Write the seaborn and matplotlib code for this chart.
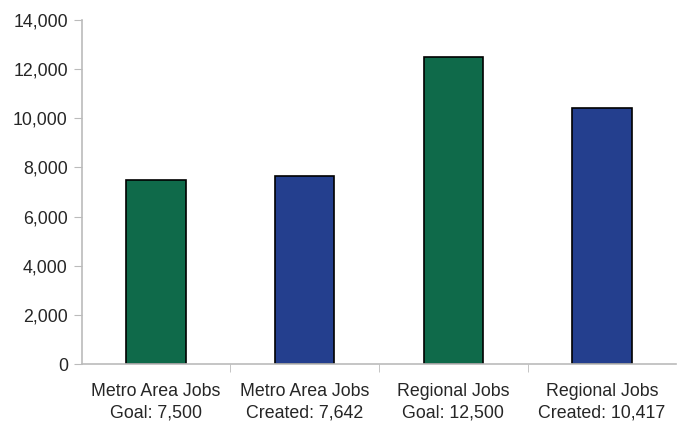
import pandas as pd
import matplotlib.pyplot as plt
import seaborn as sns
from matplotlib.ticker import FuncFormatter, FixedLocator

# data
categories = ["Metro Area Jobs\nGoal: 7,500", "Metro Area Jobs\nCreated: 7,642",
              "Regional Jobs\nGoal: 12,500", "Regional Jobs\nCreated: 10,417"]
jobs = [7500, 7642, 12500, 10417]
kind = ["Goal", "Created", "Goal", "Created"]

df = pd.DataFrame({"category": categories, "jobs": jobs, "kind": kind})

sns.set_style("white")
plt.rcParams["font.family"] = ["Liberation Sans", "DejaVu Sans"]

fig = plt.figure(figsize=(6.81, 4.24), dpi=100)
ax = fig.add_axes([0.120, 0.1415, 0.873, 0.8115])

sns.barplot(data=df, x="category", y="jobs", hue="kind",
            palette={"Goal": "#0f6a4a", "Created": "#243f8e"}, saturation=1,
            width=0.4, dodge=False, edgecolor="black", linewidth=1.2,
            legend=False, ax=ax)

ax.set_ylim(0, 14000)
ax.set_xlim(-0.5, 3.5)
ax.set_yticks(range(0, 14001, 2000))
ax.yaxis.set_major_formatter(FuncFormatter(lambda v, p: f"{int(v):,}"))
ax.set_xlabel("")
ax.set_ylabel("")

ax.xaxis.set_minor_locator(FixedLocator([0.5, 1.5, 2.5]))
ax.tick_params(axis="x", which="major", length=0, labelsize=12.8, pad=14)
ax.tick_params(axis="x", which="minor", length=6, color="#bbbbbb", direction="out")
ax.tick_params(axis="y", length=6, color="#bbbbbb", direction="out", labelsize=12.8, pad=4)
ax.tick_params(bottom=True, left=True, which="both")
for lbl in ax.get_xticklabels():
    lbl.set_linespacing(1.35)

for s in ["top", "right"]:
    ax.spines[s].set_visible(False)
for s in ["left", "bottom"]:
    ax.spines[s].set_color("#bbbbbb")
    ax.spines[s].set_linewidth(1.2)

plt.savefig("out.png", dpi=100)
